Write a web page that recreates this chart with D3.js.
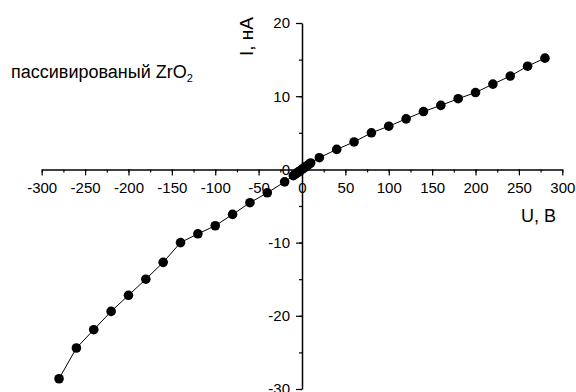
<!DOCTYPE html>
<html>
<head>
<meta charset="utf-8">
<script src="https://cdn.jsdelivr.net/npm/d3@7/dist/d3.min.js"></script>
<style>
  html, body { margin: 0; padding: 0; background: #fff; }
  svg { display: block; font-family: "Liberation Sans", Arial, sans-serif; }
</style>
</head>
<body>
<svg id="chart" width="576" height="392"></svg>
<script>
// I-V curve, passivated ZrO2
const voltage = [-280, -260, -240, -220, -200, -180, -160, -140, -120, -100, -80, -60, -40, -20,
  -10, -8, -6, -4, -2, 0, 2, 4, 6, 8, 10,
  20, 40, 60, 80, 100, 120, 140, 160, 180, 200, 220, 240, 260, 280];
const current = [-28.6, -24.4, -21.9, -19.4, -17.2, -15.0, -12.7, -10.0, -8.8, -7.7, -6.15, -4.55, -3.2, -1.7,
  -0.85, -0.68, -0.5, -0.33, -0.16, 0, 0.17, 0.35, 0.52, 0.7, 0.88,
  1.6, 2.73, 3.75, 5.0, 5.9, 6.9, 7.9, 8.74, 9.66, 10.5, 11.65, 12.75, 14.1, 15.2];
const xTicks = [-300, -250, -200, -150, -100, -50, 0, 50, 100, 150, 200, 250, 300];
const yTicks = [-30, -20, -10, 0, 10, 20];

const points = voltage.map((u, i) => ({ u, i: current[i] }));

const svg = d3.select("#chart");
const x = d3.scaleLinear().domain([-300, 300]).range([41.7, 562.3]);
const y = d3.scaleLinear().domain([-30, 20]).range([389, 23]);

const fontSize = 15;
const plain = d => String(d); // hyphen-minus like the original

// minor ticks
const xAxisMinor = d3.axisBottom(x).tickValues(d3.range(-300, 301, 25)).tickSize(3).tickFormat("");
const yAxisMinor = d3.axisLeft(y).tickValues(d3.range(-30, 21, 5)).tickSize(3).tickFormat("");

svg.append("g").attr("transform", `translate(0,${y(0)})`).call(xAxisMinor)
  .call(g => g.select(".domain").remove())
  .selectAll("line").attr("stroke", "#000").attr("stroke-width", 1.2);
svg.append("g").attr("transform", `translate(${x(0)},0)`).call(yAxisMinor)
  .call(g => g.select(".domain").remove())
  .selectAll("line").attr("stroke", "#000").attr("stroke-width", 1.2);

const xAxis = d3.axisBottom(x).tickValues(xTicks).tickFormat(plain).tickSize(6).tickSizeOuter(0).tickPadding(7);
const yAxis = d3.axisLeft(y).tickValues(yTicks).tickFormat(plain).tickSize(6).tickSizeOuter(0).tickPadding(6);

const gx = svg.append("g").attr("transform", `translate(0,${y(0)})`).call(xAxis);
const gy = svg.append("g").attr("transform", `translate(${x(0)},0)`).call(yAxis);

[gx, gy].forEach(g => {
  g.select(".domain").attr("stroke", "#000").attr("stroke-width", 1.5);
  g.selectAll(".tick line").attr("stroke", "#000").attr("stroke-width", 1.2);
  g.selectAll(".tick text").attr("fill", "#000")
    .style("font-size", fontSize + "px").style("font-family", "'Liberation Sans', Arial, sans-serif");
});

// data line and markers
const line = d3.line().x(d => x(d.u)).y(d => y(d.i));
svg.append("path").datum(points)
  .attr("d", line).attr("fill", "none").attr("stroke", "#000").attr("stroke-width", 1);

svg.append("g").selectAll("circle").data(points).join("circle")
  .attr("cx", d => x(d.u)).attr("cy", d => y(d.i)).attr("r", 4.8).attr("fill", "#000");

// axis titles
svg.append("text").attr("x", 521).attr("y", 222)
  .style("font-size", "18px").attr("fill", "#000").text("U, В");

svg.append("text").attr("transform", "translate(253,56) rotate(-90)")
  .style("font-size", "19px").attr("fill", "#000").text("I, нА");

// sample label
const note = svg.append("text").attr("x", 11).attr("y", 78)
  .style("font-size", "18px").attr("fill", "#000");
note.append("tspan").text("пассивированый ZrO");
note.append("tspan").attr("dy", 4).style("font-size", "11px").text("2");
</script>
</body>
</html>
